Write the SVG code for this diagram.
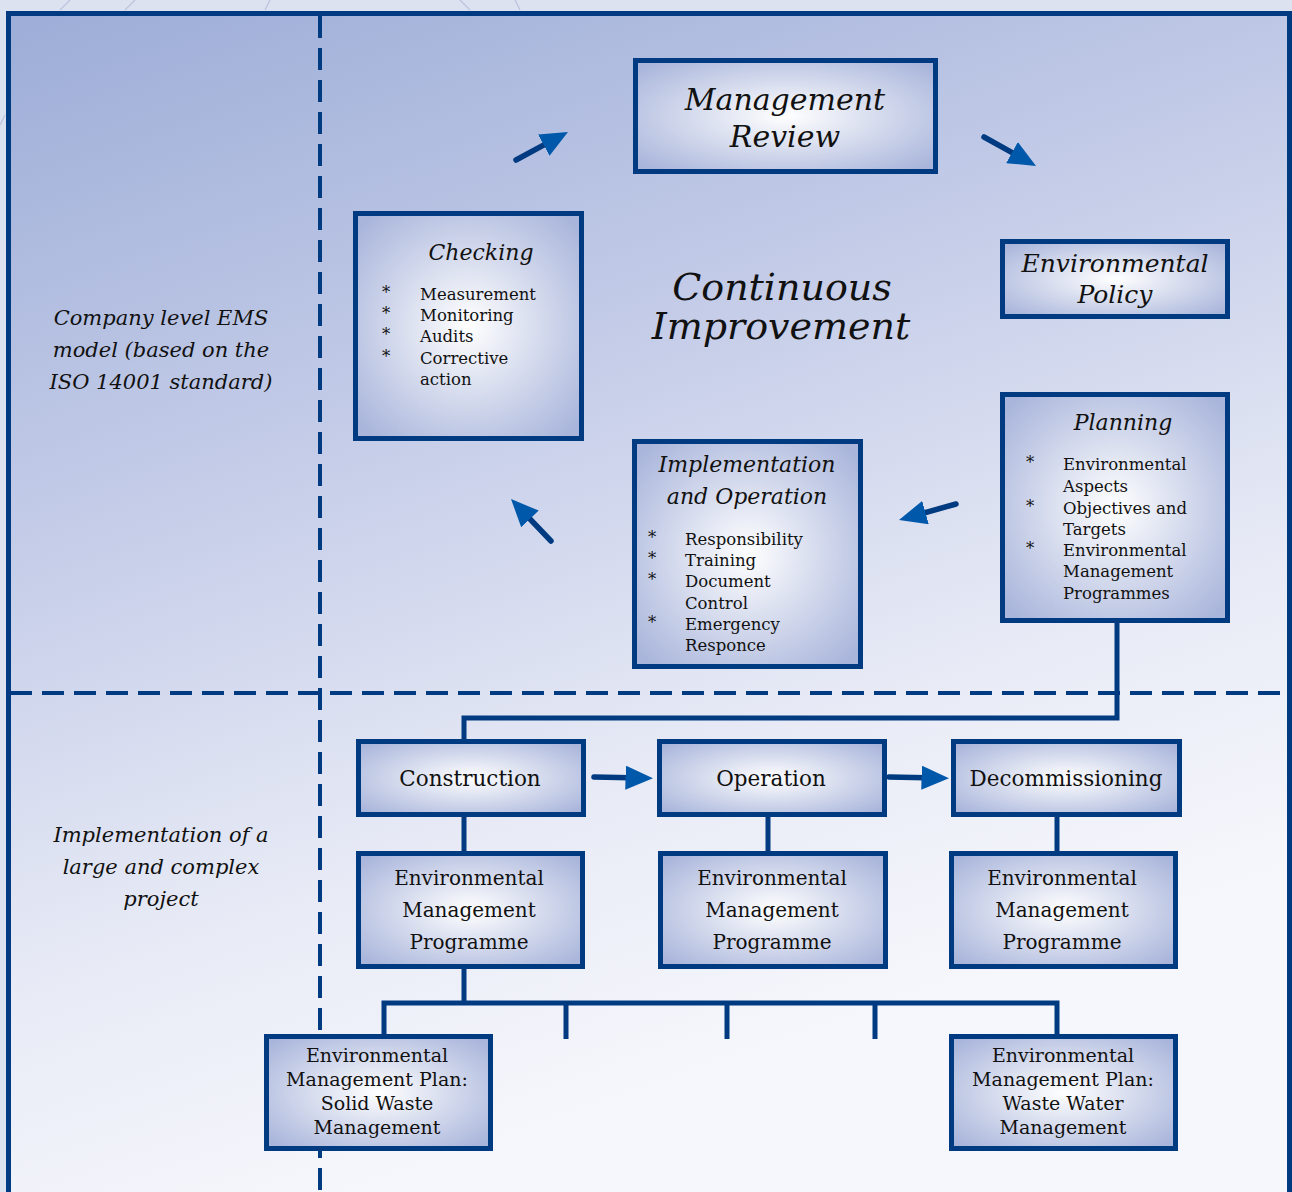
<svg xmlns="http://www.w3.org/2000/svg" width="1292" height="1192" viewBox="0 0 1292 1192">
<defs>
<linearGradient id="bg" gradientUnits="userSpaceOnUse" x1="100" y1="0" x2="500" y2="1150">
<stop offset="0" stop-color="#9eaed8"/>
<stop offset="0.4" stop-color="#c4cce8"/>
<stop offset="0.75" stop-color="#e8ebf6"/>
<stop offset="1" stop-color="#f6f7fc"/>
</linearGradient>
<radialGradient id="box" cx="0.5" cy="0.5" r="0.65">
<stop offset="0" stop-color="#ffffff"/>
<stop offset="1" stop-color="#a9b5db"/>
</radialGradient>
<marker id="ah" viewBox="0 0 10 10" refX="6" refY="5" markerWidth="5" markerHeight="4.4" markerUnits="strokeWidth" orient="auto" preserveAspectRatio="none">
<path d="M0,0 L10,5 L0,10 z" fill="#0058ab"/>
</marker>
<style>
.box{fill:url(#box);stroke:#003a80;stroke-width:5}
.dash{stroke:#003a80;stroke-width:4;stroke-dasharray:22 10;fill:none}
.con{stroke:#003a80;stroke-width:5;fill:none}
.arr{stroke:#003a80;stroke-width:5.5;stroke-linecap:round;fill:none;marker-end:url(#ah)}
text{font-family:"DejaVu Serif","Liberation Serif",serif;fill:#111}
.it{font-style:italic}
.c{text-anchor:middle}
.li{font-size:16.5px}
</style>
</defs>
<rect x="0" y="0" width="1292" height="1192" fill="#dde2f0"/>
<g stroke="#b9c3dc" stroke-width="1.2" fill="none">
<path d="M60,10 L70,0"/><path d="M125,10 L135,0"/><path d="M265,10 L270,0"/><path d="M470,10 L460,0"/><path d="M520,10 L515,0"/><path d="M0,125 L5,115"/>
</g>
<rect x="8.5" y="13.5" width="1281" height="1190" fill="url(#bg)" stroke="#003a80" stroke-width="5"/>
<g id="dividers">
<line class="dash" x1="320" y1="16" x2="320" y2="1192"/>
<line class="dash" x1="10" y1="693" x2="1292" y2="693"/>
</g>
<g id="label-company">
<text class="it c" font-size="21" x="161" y="325">Company level EMS</text>
<text class="it c" font-size="21" x="161" y="357">model (based on the</text>
<text class="it c" font-size="21" x="161" y="389">ISO 14001 standard)</text>
</g>
<g id="label-implementation">
<text class="it c" font-size="21" x="161" y="842">Implementation of a</text>
<text class="it c" font-size="21" x="161" y="874">large and complex</text>
<text class="it c" font-size="21" x="161" y="906">project</text>
</g>
<g id="continuous">
<text class="it c" font-size="38" x="782" y="300">Continuous</text>
<text class="it c" font-size="38" x="781" y="339">Improvement</text>
</g>
<g id="connectors">
<line class="arr" x1="516" y1="160" x2="558.3" y2="137.2"/>
<line class="arr" x1="984" y1="137" x2="1026.4" y2="160.6"/>
<line class="arr" x1="956" y1="504" x2="909.6" y2="517"/>
<line class="arr" x1="551" y1="541" x2="518.6" y2="507"/>
<line class="arr" x1="594" y1="777" x2="642" y2="778"/>
<line class="arr" x1="889" y1="777" x2="938" y2="778"/>
<polyline class="con" points="1117,622 1117,718 464,718 464,739"/>
<line class="con" x1="464" y1="816" x2="464" y2="851"/>
<line class="con" x1="768" y1="816" x2="768" y2="851"/>
<line class="con" x1="1057" y1="816" x2="1057" y2="851"/>
<line class="con" x1="464" y1="968" x2="464" y2="1003"/>
<polyline class="con" points="384,1034 384,1003 1057,1003 1057,1034"/>
<line class="con" x1="566" y1="1003" x2="566" y2="1039"/>
<line class="con" x1="727" y1="1003" x2="727" y2="1039"/>
<line class="con" x1="875" y1="1003" x2="875" y2="1039"/>
</g>
<g id="management-review">
<rect class="box" x="635.5" y="60.5" width="300" height="111"/>
<text class="it c" font-size="30" x="785" y="110">Management</text>
<text class="it c" font-size="30" x="785" y="147">Review</text>
</g>
<g id="checking">
<rect class="box" x="355.5" y="213.5" width="226" height="225"/>
<text class="it c" font-size="22" x="481" y="260">Checking</text>
<g class="li">
<text x="382" y="298">*</text><text x="420" y="300">Measurement</text>
<text x="382" y="319">*</text><text x="420" y="321">Monitoring</text>
<text x="382" y="340">*</text><text x="420" y="342">Audits</text>
<text x="382" y="362">*</text><text x="420" y="364">Corrective</text>
<text x="420" y="385">action</text>
</g>
</g>
<g id="environmental-policy">
<rect class="box" x="1002.5" y="241.5" width="225" height="75"/>
<text class="it c" font-size="25" x="1115" y="272">Environmental</text>
<text class="it c" font-size="25" x="1115" y="303">Policy</text>
</g>
<g id="planning">
<rect class="box" x="1002.5" y="394.5" width="225" height="226"/>
<text class="it c" font-size="22" x="1123" y="430">Planning</text>
<g class="li">
<text x="1026" y="468">*</text><text x="1063" y="470">Environmental</text>
<text x="1063" y="492">Aspects</text>
<text x="1026" y="512">*</text><text x="1063" y="514">Objectives and</text>
<text x="1063" y="535">Targets</text>
<text x="1026" y="554">*</text><text x="1063" y="556">Environmental</text>
<text x="1063" y="577">Management</text>
<text x="1063" y="599">Programmes</text>
</g>
</g>
<g id="implementation-operation">
<rect class="box" x="634.5" y="441.5" width="226" height="225"/>
<text class="it c" font-size="22" x="747" y="472">Implementation</text>
<text class="it c" font-size="22" x="747" y="504">and Operation</text>
<g class="li">
<text x="648" y="543">*</text><text x="685" y="545">Responsibility</text>
<text x="648" y="564">*</text><text x="685" y="566">Training</text>
<text x="648" y="585">*</text><text x="685" y="587">Document</text>
<text x="685" y="609">Control</text>
<text x="648" y="628">*</text><text x="685" y="630">Emergency</text>
<text x="685" y="651">Responce</text>
</g>
</g>
<g id="construction">
<rect class="box" x="358.5" y="741.5" width="225" height="73"/>
<text class="c" font-size="21.5" x="470" y="786">Construction</text>
</g>
<g id="operation">
<rect class="box" x="659.5" y="741.5" width="225" height="73"/>
<text class="c" font-size="21.5" x="771" y="786">Operation</text>
</g>
<g id="decommissioning">
<rect class="box" x="953.5" y="741.5" width="226" height="73"/>
<text class="c" font-size="21.5" x="1066" y="786">Decommissioning</text>
</g>
<g id="emp-construction">
<rect class="box" x="358.5" y="853.5" width="224" height="113"/>
<text class="c" font-size="20" x="469" y="885">Environmental</text>
<text class="c" font-size="20" x="469" y="917">Management</text>
<text class="c" font-size="20" x="469" y="949">Programme</text>
</g>
<g id="emp-operation">
<rect class="box" x="660.5" y="853.5" width="225" height="113"/>
<text class="c" font-size="20" x="772" y="885">Environmental</text>
<text class="c" font-size="20" x="772" y="917">Management</text>
<text class="c" font-size="20" x="772" y="949">Programme</text>
</g>
<g id="emp-decommissioning">
<rect class="box" x="951.5" y="853.5" width="224" height="113"/>
<text class="c" font-size="20" x="1062" y="885">Environmental</text>
<text class="c" font-size="20" x="1062" y="917">Management</text>
<text class="c" font-size="20" x="1062" y="949">Programme</text>
</g>
<g id="emplan-solid-waste">
<rect class="box" x="266.5" y="1036.5" width="224" height="112"/>
<text class="c" font-size="19" x="377" y="1062">Environmental</text>
<text class="c" font-size="19" x="377" y="1086">Management Plan:</text>
<text class="c" font-size="19" x="377" y="1110">Solid Waste</text>
<text class="c" font-size="19" x="377" y="1134">Management</text>
</g>
<g id="emplan-waste-water">
<rect class="box" x="951.5" y="1036.5" width="224" height="112"/>
<text class="c" font-size="19" x="1063" y="1062">Environmental</text>
<text class="c" font-size="19" x="1063" y="1086">Management Plan:</text>
<text class="c" font-size="19" x="1063" y="1110">Waste Water</text>
<text class="c" font-size="19" x="1063" y="1134">Management</text>
</g>
</svg>
